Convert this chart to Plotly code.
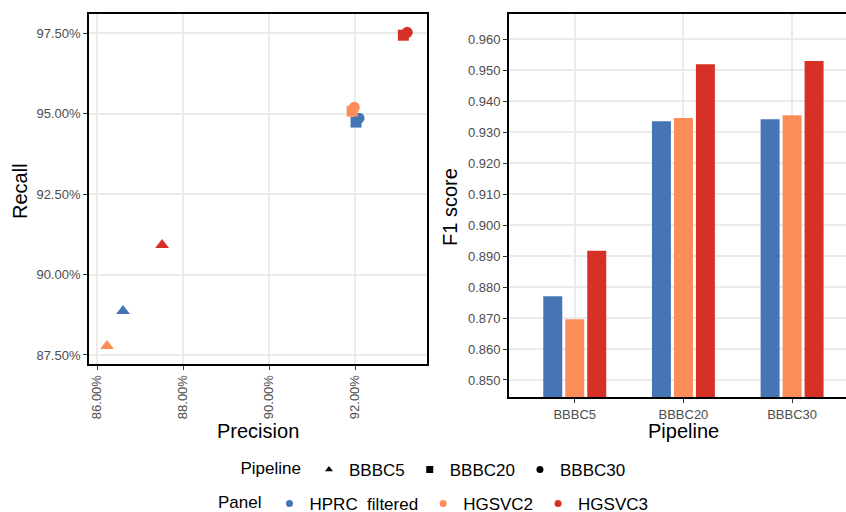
import plotly.graph_objects as go

# ---------------- data ----------------
pipelines = ["BBBC5", "BBBC20", "BBBC30"]
panels = ["HPRC\u00a0 filtered", "HGSVC2", "HGSVC3"]
panel_colors = ["#4575b4", "#fc8d59", "#d73027"]
pipeline_symbols = ["triangle-up", "square", "circle"]

precision_hprc = [86.60, 92.02, 92.09]
precision_hgsvc2 = [86.23, 91.93, 91.98]
precision_hgsvc3 = [87.51, 93.12, 93.21]

recall_hprc = [88.87, 94.74, 94.86]
recall_hgsvc2 = [87.78, 95.08, 95.20]
recall_hgsvc3 = [90.92, 97.44, 97.53]

f1_hprc = [0.8770, 0.9336, 0.9342]
f1_hgsvc2 = [0.8696, 0.9346, 0.9355]
f1_hgsvc3 = [0.8917, 0.9520, 0.9530]

precision_ticks = [86, 88, 90, 92]
recall_ticks = [87.5, 90, 92.5, 95, 97.5]

precisions = [precision_hprc, precision_hgsvc2, precision_hgsvc3]
recalls = [recall_hprc, recall_hgsvc2, recall_hgsvc3]
f1s = [f1_hprc, f1_hgsvc2, f1_hgsvc3]

FONT = "Liberation Sans, Arial, Helvetica, sans-serif"
W, H = 846, 512

fig = go.Figure()

symbol_sizes = {"triangle-up": 12, "square": 11, "circle": 11}

# scatter panel
for i, panel in enumerate(panels):
    fig.add_trace(go.Scatter(
        x=precisions[i], y=recalls[i], mode="markers",
        marker=dict(symbol=pipeline_symbols, color=panel_colors[i], opacity=1,
                    size=[symbol_sizes[s] for s in pipeline_symbols], line=dict(width=0)),
        showlegend=False, xaxis="x", yaxis="y", name=panel))

# bar panel
for i, panel in enumerate(panels):
    fig.add_trace(go.Bar(
        x=pipelines, y=f1s[i], marker=dict(color=panel_colors[i], line=dict(width=0)),
        showlegend=False, xaxis="x2", yaxis="y2", name=panel))

# legend entries
for p, s in zip(pipelines, pipeline_symbols):
    fig.add_trace(go.Scatter(x=[None], y=[None], mode="markers",
                             marker=dict(symbol=s, color="black", size=7, opacity=1),
                             name=p, legend="legend", xaxis="x", yaxis="y"))
for panel, c in zip(panels, panel_colors):
    fig.add_trace(go.Scatter(x=[None], y=[None], mode="markers",
                             marker=dict(symbol="circle", color=c, size=7, opacity=1),
                             name=panel, legend="legend2", xaxis="x", yaxis="y"))

def px_x(p):
    return p / W

def px_y(p):
    return 1 - p / H

common_axis = dict(showgrid=True, gridcolor="#ebebeb", gridwidth=1.8, zeroline=False,
                   ticks="outside", ticklen=4, tickwidth=1, tickcolor="#333333",
                   tickfont=dict(family=FONT, size=13, color="#4d4d4d"),
                   showline=True, linecolor="black", linewidth=1.8, automargin=False)

fig.update_layout(
    width=W, height=H,
    margin=dict(l=0, r=0, t=0, b=0, autoexpand=False),
    paper_bgcolor="white", plot_bgcolor="white",
    font=dict(family=FONT, color="black"),
    bargap=0.393, bargroupgap=0.136, barmode="group",
    xaxis=dict(common_axis, domain=[px_x(89), px_x(427)], anchor="y", range=[85.81, 93.67],
               tickmode="array", tickvals=precision_ticks,
               ticktext=[f"{v:.2f}%" for v in precision_ticks], tickangle=-90,
               mirror=True),
    yaxis=dict(common_axis, domain=[px_y(364), px_y(14)], anchor="x", range=[87.22, 98.1],
               tickmode="array", tickvals=recall_ticks,
               ticktext=[f"{v:.2f}%" for v in recall_ticks], mirror=True),
    xaxis2=dict(common_axis, domain=[px_x(509), 1.0], anchor="y2", type="category",
                range=[-0.605, 2.496], categoryorder="array", categoryarray=pipelines,
                mirror=True),
    yaxis2=dict(common_axis, domain=[px_y(397), px_y(14)], anchor="x2",
                range=[0.8445, 0.9682], tick0=0.85, dtick=0.01, tickformat=".3f",
                mirror=False),
    legend=dict(orientation="h", x=px_x(434.5), xanchor="center", y=px_y(470), yanchor="middle",
                title=dict(text="Pipeline", side="left", font=dict(size=17)),
                font=dict(family=FONT, size=17, color="black"), bgcolor="rgba(0,0,0,0)"),
    legend2=dict(orientation="h", x=px_x(434.5), xanchor="center", y=px_y(504), yanchor="middle",
                 title=dict(text="Panel", side="left", font=dict(size=17)),
                 font=dict(family=FONT, size=17, color="black"), bgcolor="rgba(0,0,0,0)"),
)

annots = [
    dict(text="Precision", x=px_x(258), y=px_y(431), textangle=0),
    dict(text="Pipeline", x=px_x(683), y=px_y(431), textangle=0),
    dict(text="Recall", x=px_x(20), y=px_y(191), textangle=-90),
    dict(text="F1 score", x=px_x(450), y=px_y(207), textangle=-90),
]
for a in annots:
    fig.add_annotation(text=a["text"], x=a["x"], y=a["y"], xref="paper", yref="paper",
                       xanchor="center", yanchor="middle", showarrow=False,
                       textangle=a["textangle"], font=dict(family=FONT, size=20, color="black"))

fig.write_html("out.html")
